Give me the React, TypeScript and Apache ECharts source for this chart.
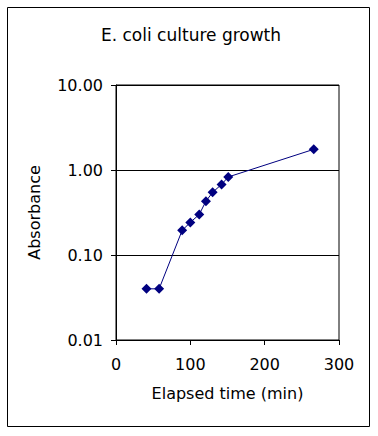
import React, { useEffect, useRef } from "react";
import * as echarts from "echarts";

const elapsedMinutes = [41, 58, 89, 100, 112, 121, 130, 142, 151, 266];
const absorbance = [0.04, 0.04, 0.195, 0.242, 0.3, 0.43, 0.546, 0.677, 0.828, 1.75];
const titleText = "E. coli culture growth";
const xAxisName = "Elapsed time (min)";
const yAxisName = "Absorbance";

const FONT = "DejaVu Sans";

export default function App() {
  const ref = useRef<HTMLDivElement>(null);
  useEffect(() => {
    if (!ref.current) return;
    const chart = echarts.init(ref.current, undefined, { renderer: "svg" });
    const data = elapsedMinutes.map((t, i) => [t, absorbance[i]]);
    chart.setOption({
      animation: false,
      backgroundColor: "#ffffff",
      title: {
        text: titleText,
        left: 186,
        textAlign: "center",
        top: 21,
        textStyle: { fontFamily: FONT, fontSize: 17, fontWeight: "normal", color: "#000" },
      },
      graphic: [
        {
          type: "rect",
          shape: { x: 7.5, y: 7.5, width: 362, height: 419 },
          style: { fill: "none", stroke: "#000", lineWidth: 1 },
          silent: true,
        },
      ],
      grid: {
        left: 116,
        top: 85,
        width: 223,
        height: 255,
        show: true,
        borderColor: "#000",
        borderWidth: 1,
        backgroundColor: "transparent",
      },
      xAxis: {
        type: "value",
        min: 0,
        max: 300,
        interval: 100,
        name: xAxisName,
        nameLocation: "middle",
        nameGap: 45,
        nameTextStyle: { fontFamily: FONT, fontSize: 16, color: "#000" },
        axisLine: { show: true, lineStyle: { color: "#000", width: 1 } },
        axisTick: { show: true, length: 5, lineStyle: { color: "#000" } },
        axisLabel: { fontFamily: FONT, fontSize: 16, color: "#000", margin: 16 },
        splitLine: { show: false },
      },
      yAxis: {
        type: "log",
        logBase: 10,
        min: 0.01,
        max: 10,
        name: yAxisName,
        nameLocation: "middle",
        nameGap: 74,
        nameTextStyle: { fontFamily: FONT, fontSize: 16, color: "#000" },
        axisLine: { show: true, lineStyle: { color: "#000", width: 1 } },
        axisTick: { show: true, length: 5, lineStyle: { color: "#000" } },
        axisLabel: {
          fontFamily: FONT,
          fontSize: 16,
          color: "#000",
          margin: 13,
          formatter: (v: number) => v.toFixed(2),
        },
        splitLine: { show: true, lineStyle: { color: "#000", width: 1 } },
        minorSplitLine: { show: false },
      },
      series: [
        {
          type: "line",
          data,
          symbol: "diamond",
          symbolSize: 10,
          showAllSymbol: true,
          lineStyle: { color: "#000080", width: 1 },
          itemStyle: { color: "#000080" },
        },
      ],
    });
    return () => chart.dispose();
  }, []);
  return (
    <div
      ref={ref}
      style={{ position: "fixed", left: 0, top: 0, width: 378, height: 436 }}
    />
  );
}
